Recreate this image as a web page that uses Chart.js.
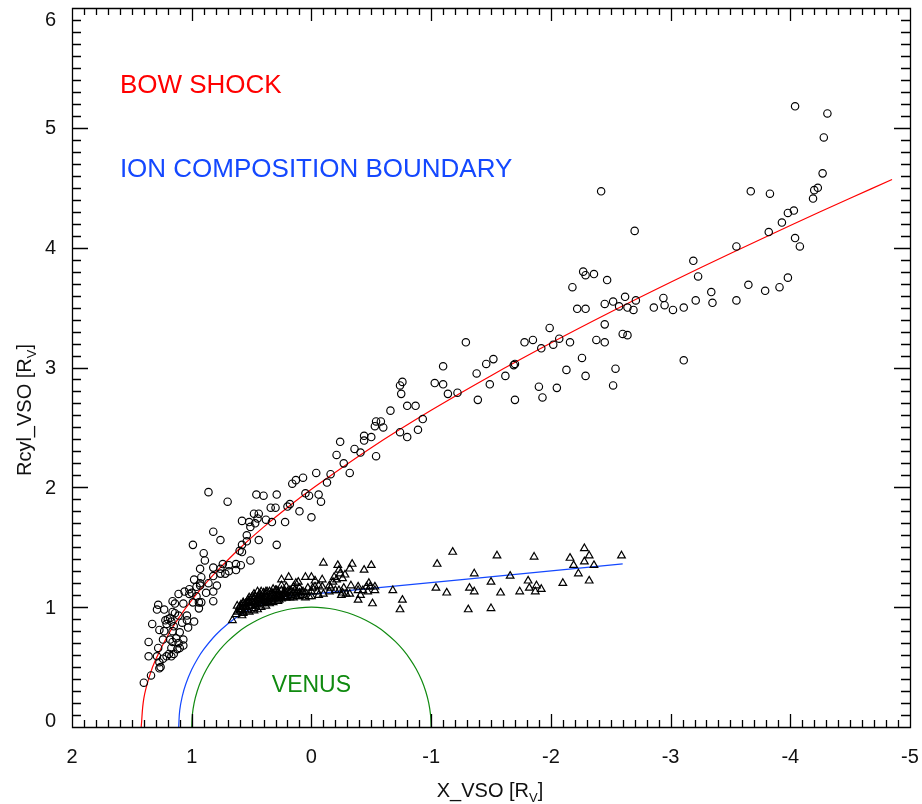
<!DOCTYPE html>
<html>
<head>
<meta charset="utf-8">
<script src="https://cdn.jsdelivr.net/npm/chart.js@4"></script>
<style>
  html, body { margin: 0; padding: 0; background: #fff; }
  canvas { display: block; }
</style>
</head>
<body>
<canvas id="grafico" width="922" height="804" style="width:922px;height:804px"></canvas>
<script>
// Eixos
const xTicks = [2, 1, 0, -1, -2, -3, -4, -5];
const yTicks = [0, 1, 2, 3, 4, 5, 6];
// marcas menores a cada 0.1
const xMarcas = [-5.0, -4.9, -4.8, -4.7, -4.6, -4.5, -4.4, -4.3, -4.2, -4.1, -4.0, -3.9, -3.8, -3.7, -3.6, -3.5, -3.4, -3.3, -3.2, -3.1,
  -3.0, -2.9, -2.8, -2.7, -2.6, -2.5, -2.4, -2.3, -2.2, -2.1, -2.0, -1.9, -1.8, -1.7, -1.6, -1.5, -1.4, -1.3, -1.2, -1.1,
  -1.0, -0.9, -0.8, -0.7, -0.6, -0.5, -0.4, -0.3, -0.2, -0.1, 0.0, 0.1, 0.2, 0.3, 0.4, 0.5, 0.6, 0.7, 0.8, 0.9,
  1.0, 1.1, 1.2, 1.3, 1.4, 1.5, 1.6, 1.7, 1.8, 1.9, 2.0];
const yMarcas = [0.0, 0.1, 0.2, 0.3, 0.4, 0.5, 0.6, 0.7, 0.8, 0.9, 1.0, 1.1, 1.2, 1.3, 1.4, 1.5, 1.6, 1.7, 1.8, 1.9,
  2.0, 2.1, 2.2, 2.3, 2.4, 2.5, 2.6, 2.7, 2.8, 2.9, 3.0, 3.1, 3.2, 3.3, 3.4, 3.5, 3.6, 3.7, 3.8, 3.9,
  4.0, 4.1, 4.2, 4.3, 4.4, 4.5, 4.6, 4.7, 4.8, 4.9, 5.0, 5.1, 5.2, 5.3, 5.4, 5.5, 5.6, 5.7, 5.8, 5.9, 6.0];

// Cruzamentos do bow shock (círculos)
const bowShockX = [
  -4.04, -4.31, -4.28, -4.27, -4.23, -4.20, -4.19, -3.67, -3.83, -2.42, -2.70, -4.03, -3.98, -3.93, -3.82, -4.04, -4.08, -3.55,
  -3.19, -3.23, -2.27, -2.29, -2.36, -2.47, -2.18, -3.34, -3.35, -3.65, -3.79, -3.91, -3.98, -3.55, -2.94, -2.95, -3.02, -3.11,
  -3.21, -2.86, -2.62, -2.71, -2.64, -2.69, -2.57, -2.52, -2.45, -2.22, -2.29, -2.45, -2.60, -2.64, -2.38, -2.45, -3.11, -1.99,
  -2.07, -2.02, -1.92, -2.16, -1.85, -1.78, -2.26, -2.29, -2.13, -2.54, -2.52, -2.05, -1.90, -1.93, -1.70, -1.69, -1.70, -1.62,
  -1.49, -1.52, -1.46, -1.29, -1.38, -1.39, -1.10, -1.03, -1.10, -1.14, -1.22, -0.76, -0.74, -0.75, -0.80, -0.87, -0.93, -0.89,
  -0.80, -0.74, -0.66, -0.54, -0.58, -0.53, -0.60, -0.50, -0.44, -0.44, -0.41, -0.54, -0.36, -0.24, -0.21, -0.27, -0.32, -0.16,
  -0.13, -0.04, -0.06, -0.08, 0.00, 0.07, 0.13, 0.16, 0.05, 0.02, 0.10, 0.18, 0.20, 0.22, 0.29, 0.40, 0.46, 0.30,
  0.34, 0.33, 0.38, 0.44, 0.48, 0.45, 0.47, 0.52, 0.51, 0.58, 0.54, 0.44, 0.70, 0.86, 0.82, 0.76, 0.29, 0.99,
  0.90, 0.89, 0.93, 0.82, 0.74, 0.76, 0.69, 0.63, 0.63, 0.59, 0.51, 0.60, 0.58, 0.58, 0.54, 0.98, 0.92, 0.82,
  0.69, 0.76, 0.72, 0.93, 0.96, 0.93, 0.86, 0.79, 0.82, 0.88, 0.82, 1.02, 1.00, 1.02, 1.06, 1.11, 0.96, 0.94,
  0.92, 0.99, 1.07, 1.14, 1.16, 0.94, 1.28, 1.29, 1.23, 1.16, 1.14, 1.11, 1.04, 1.04, 0.98, 1.08, 1.03, 1.33,
  1.27, 1.23, 1.22, 1.20, 1.18, 1.17, 1.21, 1.16, 1.10, 1.15, 1.24, 1.18, 1.16, 1.13, 1.07, 1.11, 1.36, 1.28,
  1.17, 1.12, 1.10, 1.07, 1.19, 1.21, 1.17, 1.15, 1.24, 1.27, 1.26, 1.27, 1.29, 1.36, 1.34, 1.40
];
const bowShockY = [
  5.18, 5.12, 4.92, 4.62, 4.50, 4.48, 4.41, 4.47, 4.45, 4.47, 4.14, 4.31, 4.29, 4.21, 4.13, 4.08, 4.01, 4.01,
  3.89, 3.76, 3.80, 3.77, 3.78, 3.73, 3.67, 3.63, 3.54, 3.69, 3.64, 3.67, 3.75, 3.56, 3.58, 3.52, 3.48, 3.50,
  3.56, 3.50, 3.59, 3.56, 3.50, 3.48, 3.51, 3.55, 3.53, 3.49, 3.49, 3.36, 3.28, 3.27, 3.23, 3.21, 3.06, 3.33,
  3.24, 3.19, 3.16, 3.21, 3.23, 3.21, 3.08, 2.93, 2.98, 2.99, 2.85, 2.83, 2.84, 2.75, 2.73, 3.02, 3.03, 2.93,
  2.86, 3.07, 3.03, 3.21, 2.95, 2.73, 3.01, 2.87, 2.86, 2.78, 2.79, 2.88, 2.85, 2.78, 2.68, 2.68, 2.57, 2.48,
  2.42, 2.46, 2.64, 2.55, 2.55, 2.51, 2.50, 2.42, 2.43, 2.39, 2.29, 2.26, 2.32, 2.38, 2.27, 2.20, 2.12, 2.11,
  2.04, 2.12, 1.94, 1.88, 1.75, 2.08, 2.06, 2.03, 1.95, 1.93, 1.80, 1.86, 1.84, 1.71, 1.94, 1.93, 1.94, 1.83,
  1.83, 1.71, 1.73, 1.78, 1.78, 1.74, 1.70, 1.71, 1.67, 1.72, 1.60, 1.56, 1.88, 1.96, 1.63, 1.56, 1.52, 1.52,
  1.45, 1.39, 1.32, 1.33, 1.36, 1.32, 1.30, 1.31, 1.36, 1.35, 1.39, 1.47, 1.46, 1.52, 1.55, 1.23, 1.25, 1.26,
  1.35, 1.28, 1.28, 1.20, 1.17, 1.18, 1.20, 1.18, 1.13, 1.12, 1.05, 1.15, 1.12, 1.11, 1.13, 1.11, 1.09, 1.04,
  1.04, 1.04, 1.03, 1.03, 1.05, 0.99, 1.02, 0.98, 0.98, 0.96, 0.95, 0.93, 0.93, 0.89, 0.88, 0.87, 0.83, 0.86,
  0.81, 0.80, 0.89, 0.90, 0.91, 0.88, 0.86, 0.80, 0.79, 0.84, 0.73, 0.73, 0.71, 0.74, 0.73, 0.70, 0.71, 0.66,
  0.66, 0.65, 0.66, 0.68, 0.61, 0.59, 0.59, 0.61, 0.57, 0.54, 0.50, 0.49, 0.59, 0.59, 0.43, 0.37
];

// Cruzamentos da ICB (triângulos)
const icbX = [
  -1.18, -1.05, -1.55, -1.86, -2.16, -2.28, -2.32, -2.28, -2.36, -2.19, -2.59, -2.23, -2.10, -2.32, -1.36, -1.66, -1.81, -1.50,
  -1.04, -1.13, -1.32, -1.36, -1.58, -1.74, -1.82, -1.88, -1.87, -1.92, -1.31, -1.50, -0.68, -0.76, -0.74, -0.51, -0.39, -0.50,
  -0.44, -0.34, -0.32, -0.22, -0.23, -0.10, 0.00, 0.05, -0.09, -0.19, -0.26, -0.28, -0.18, -0.16, -0.33, -0.48, -0.49, -0.39,
  -0.43, -0.47, -0.53, -0.41, -0.32, -0.25, -0.29, -0.03, -0.06, 0.02, 0.10, -0.23, 0.25, 0.19, 0.11, -0.09, -0.15, -0.39,
  -0.46, -0.53, -0.21, -0.01, 0.03, -0.06, -0.26, -0.24,
  0.66, 0.59, 0.53, 0.48, 0.42, 0.36, 0.38, 0.44, 0.49, 0.57, 0.59, 0.57, 0.40, 0.32, 0.27, 0.21, 0.25, 0.29,
  0.24, 0.21, 0.18, 0.14, 0.10, -0.03, 0.13,
  0.62, 0.62, 0.58, 0.58, 0.55, 0.55, 0.55, 0.52, 0.52, 0.52, 0.52, 0.48, 0.48, 0.48, 0.48, 0.45, 0.45, 0.45,
  0.45, 0.45, 0.42, 0.42, 0.42, 0.42, 0.38, 0.38, 0.38, 0.38, 0.35, 0.35, 0.35, 0.35, 0.32, 0.32, 0.32, 0.32,
  0.28, 0.28, 0.28, 0.28, 0.25, 0.25, 0.25, 0.22, 0.22, 0.22, 0.18, 0.18, 0.15, 0.15, 0.15, 0.12, 0.12, 0.08,
  0.08, 0.05, 0.05, 0.00, 0.00, -0.05, -0.10, -0.15, -0.20, -0.27,
  0.63, 0.60, 0.60, 0.57, 0.57, 0.57, 0.53, 0.53, 0.53, 0.50, 0.50, 0.50, 0.47, 0.47, 0.47, 0.43, 0.43, 0.43,
  0.40, 0.40, 0.40, 0.37, 0.37, 0.37, 0.33, 0.33, 0.33, 0.30, 0.30, 0.30, 0.27, 0.27, 0.23, 0.23, 0.20, 0.20,
  0.17, 0.17, 0.13, 0.10, 0.07
];
const icbY = [
  1.46, 1.36, 1.43, 1.42, 1.41, 1.49, 1.43, 1.38, 1.35, 1.35, 1.43, 1.28, 1.20, 1.22, 1.28, 1.26, 1.22, 1.21,
  1.16, 1.12, 1.16, 1.13, 1.12, 1.13, 1.16, 1.18, 1.13, 1.15, 0.98, 0.99, 1.14, 1.06, 0.98, 1.03, 1.06, 1.35,
  1.31, 1.36, 1.32, 1.35, 1.31, 1.37, 1.25, 1.25, 1.23, 1.25, 1.24, 1.27, 1.21, 1.16, 1.18, 1.20, 1.17, 1.14,
  1.14, 1.13, 1.14, 1.10, 1.11, 1.10, 1.11, 1.17, 1.10, 1.09, 1.09, 1.14, 1.23, 1.25, 1.21, 1.17, 1.18, 1.17,
  1.17, 1.17, 1.23, 1.16, 1.16, 1.18, 1.12, 1.28,
  0.89, 1.02, 1.04, 1.07, 1.06, 1.04, 1.13, 1.10, 1.09, 1.04, 0.98, 0.95, 1.06, 1.07, 1.06, 1.08, 1.18, 1.14,
  1.11, 1.17, 1.14, 1.14, 1.16, 1.22, 1.20,
  0.96, 1.01, 0.93, 0.98, 1.03, 0.97, 1.00, 1.05, 1.01, 0.96, 1.08, 1.03, 0.99, 1.11, 0.97, 1.06, 1.02, 1.08,
  0.98, 1.13, 1.09, 1.03, 1.00, 1.13, 1.08, 1.04, 1.01, 1.11, 1.09, 1.06, 1.03, 1.13, 1.11, 1.07, 1.04, 1.15,
  1.10, 1.08, 1.05, 1.13, 1.09, 1.07, 1.14, 1.11, 1.08, 1.13, 1.12, 1.08, 1.12, 1.08, 1.17, 1.13, 1.09, 1.13,
  1.10, 1.12, 1.08, 1.13, 1.09, 1.13, 1.11, 1.13, 1.14, 1.16,
  0.94, 0.97, 1.00, 0.96, 1.01, 1.03, 0.98, 1.03, 1.06, 1.01, 1.05, 1.08, 1.01, 1.04, 1.09, 1.03, 1.07, 1.11,
  1.03, 1.08, 1.12, 1.05, 1.08, 1.13, 1.05, 1.09, 1.12, 1.07, 1.09, 1.14, 1.08, 1.11, 1.09, 1.12, 1.09, 1.13,
  1.10, 1.14, 1.11, 1.12, 1.13
];

// Curvas ajustadas
const bsCurvaX = [1.422, 1.40, 1.35, 1.30, 1.20, 1.10, 1.00, 0.90, 0.80, 0.60, 0.40, 0.20, 0.00, -0.50, -1.00, -1.50, -2.00, -2.50, -3.00, -3.50, -4.00, -4.50, -4.85];
const bsCurvaY = [0.00, 0.239, 0.433, 0.565, 0.764, 0.922, 1.058, 1.179, 1.290, 1.490, 1.668, 1.832, 1.984, 2.331, 2.643, 2.932, 3.204, 3.463, 3.711, 3.951, 4.185, 4.412, 4.569];

const icbCurvaX = [1.109, 1.10, 1.08, 1.05, 1.00, 0.95, 0.90, 0.80, 0.70, 0.60, 0.50, 0.40, 0.30, 0.20, 0.10, 0.00, -2.60];
const icbCurvaY = [0.00, 0.141, 0.252, 0.357, 0.479, 0.572, 0.648, 0.768, 0.860, 0.933, 0.990, 1.034, 1.068, 1.091, 1.105, 1.109, 1.361];

const venusX = [1.00, 0.995, 0.98, 0.955, 0.92, 0.875, 0.825, 0.766, 0.70, 0.62, 0.54, 0.45, 0.35, 0.25, 0.15, 0.05,
  -0.05, -0.15, -0.25, -0.35, -0.45, -0.54, -0.62, -0.70, -0.766, -0.825, -0.875, -0.92, -0.955, -0.98, -0.995, -1.00];
const venusY = [0.00, 0.10, 0.199, 0.296, 0.392, 0.484, 0.565, 0.643, 0.714, 0.785, 0.842, 0.893, 0.937, 0.968, 0.989, 0.999,
  0.999, 0.989, 0.968, 0.937, 0.893, 0.842, 0.785, 0.714, 0.643, 0.565, 0.484, 0.392, 0.296, 0.199, 0.10, 0.00];

const FONTE = "'Liberation Sans', Arial, Helvetica, sans-serif";
const VERMELHO = '#ff0000';
const AZUL = '#1448ff';
const VERDE = '#108a10';

function pares(xs, ys) {
    return xs.map((x, i) => ({ x: x, y: ys[i] }));
}

// Texto com subscrito (R_V)
function textoComSub(ctx, antes, sub, depois, x, y, tam) {
    const fPrinc = tam + 'px ' + FONTE;
    const fSub = Math.round(tam * 0.65) + 'px ' + FONTE;
    ctx.font = fPrinc;
    const w1 = ctx.measureText(antes).width;
    const w3 = ctx.measureText(depois).width;
    ctx.font = fSub;
    const w2 = ctx.measureText(sub).width;
    let inicio = x - (w1 + w2 + w3) / 2;
    ctx.textAlign = 'left';
    ctx.textBaseline = 'alphabetic';
    ctx.font = fPrinc;
    ctx.fillText(antes, inicio, y);
    ctx.font = fSub;
    ctx.fillText(sub, inicio + w1, y + tam * 0.25);
    ctx.font = fPrinc;
    ctx.fillText(depois, inicio + w1 + w2, y);
}

// Moldura com marcas para dentro nos quatro lados, rótulos e títulos
const molduraPlugin = {
    id: 'moldura',
    afterDraw(chart) {
        const c = chart.ctx;
        const area = chart.chartArea;
        const sx = chart.scales.x;
        const sy = chart.scales.y;
        const esq = Math.round(area.left);
        const dir = Math.round(area.right);
        const topo = Math.round(area.top);
        const base = Math.round(area.bottom);
        c.save();
        c.globalAlpha = 1;
        c.globalCompositeOperation = 'source-over';
        c.setLineDash([]);
        c.strokeStyle = '#000';
        c.lineWidth = 1.3;
        c.beginPath();
        c.rect(esq + 0.5, topo + 0.5, dir - esq, base - topo);
        // marcas do eixo x (embaixo e em cima)
        xMarcas.forEach((v) => {
            const px = Math.round(sx.getPixelForValue(v)) + 0.5;
            const len = Number.isInteger(v) ? 13 : 7;
            c.moveTo(px, base);
            c.lineTo(px, base - len);
            c.moveTo(px, topo);
            c.lineTo(px, topo + len);
        });
        // marcas do eixo y (esquerda e direita)
        yMarcas.forEach((v) => {
            const py = Math.round(sy.getPixelForValue(v)) + 0.5;
            const len = Number.isInteger(v) ? 16 : 9;
            c.moveTo(esq, py);
            c.lineTo(esq + len, py);
            c.moveTo(dir, py);
            c.lineTo(dir - len, py);
        });
        c.stroke();

        // Rótulos do eixo y (os extremos ficam dentro da moldura, como no IDL)
        c.fillStyle = '#111';
        c.font = '20px ' + FONTE;
        c.textAlign = 'right';
        c.textBaseline = 'middle';
        yTicks.forEach((v) => {
            let py = sy.getPixelForValue(v);
            py = Math.min(Math.max(py, topo + 11), base - 7);
            c.fillText(String(v), esq - 16, py + 1);
        });

        // Rótulos das regiões
        c.textBaseline = 'alphabetic';
        c.textAlign = 'left';
        c.font = '26px ' + FONTE;
        c.fillStyle = VERMELHO;
        c.fillText('BOW SHOCK', sx.getPixelForValue(1.6), sy.getPixelForValue(5.29));
        c.fillStyle = AZUL;
        c.fillText('ION COMPOSITION BOUNDARY', sx.getPixelForValue(1.6), sy.getPixelForValue(4.59));
        c.textAlign = 'center';
        c.font = '23px ' + FONTE;
        c.fillStyle = VERDE;
        c.fillText('VENUS', sx.getPixelForValue(0), sy.getPixelForValue(0.29));

        // Títulos dos eixos
        c.fillStyle = '#111';
        textoComSub(c, 'X_VSO [R', 'V', ']', 490, 797, 20);
        c.translate(31, 410);
        c.rotate(-Math.PI / 2);
        textoComSub(c, 'Rcyl_VSO [R', 'V', ']', 0, 0, 20);
        c.restore();
    }
};

const ctx = document.getElementById('grafico').getContext('2d');

const configuracao = {
    type: 'scatter',
    data: {
        datasets: [
            {
                label: 'Bow shock',
                data: pares(bowShockX, bowShockY),
                pointStyle: 'circle',
                pointRadius: 3.7,
                pointBorderWidth: 1.15,
                pointBorderColor: '#000',
                pointBackgroundColor: 'rgba(0,0,0,0)'
            },
            {
                label: 'ICB',
                data: pares(icbX, icbY),
                pointStyle: 'triangle',
                pointRadius: 4.4,
                pointBorderWidth: 1.2,
                pointBorderColor: '#000',
                pointBackgroundColor: 'rgba(0,0,0,0)'
            },
            {
                label: 'Ajuste BS',
                data: pares(bsCurvaX, bsCurvaY),
                showLine: true,
                borderColor: VERMELHO,
                borderWidth: 1.2,
                pointRadius: 0,
                tension: 0.4
            },
            {
                label: 'Ajuste ICB',
                data: pares(icbCurvaX, icbCurvaY),
                showLine: true,
                borderColor: AZUL,
                borderWidth: 1.2,
                pointRadius: 0,
                tension: 0.4
            },
            {
                label: 'Vênus',
                data: pares(venusX, venusY),
                showLine: true,
                borderColor: VERDE,
                borderWidth: 1.2,
                pointRadius: 0,
                tension: 0.4
            }
        ]
    },
    options: {
        responsive: false,
        animation: false,
        events: [],
        layout: { padding: { top: 8, right: 12, left: 0, bottom: 0 } },
        plugins: {
            legend: { display: false },
            tooltip: { enabled: false }
        },
        scales: {
            x: {
                type: 'linear',
                reverse: true,
                min: -5,
                max: 2,
                afterBuildTicks: (s) => { s.ticks = xTicks.map(v => ({ value: v })); },
                afterFit: (s) => { s.height = 77; s.paddingLeft = 0; s.paddingRight = 0; },
                ticks: {
                    font: { family: FONTE, size: 20 },
                    color: '#111',
                    padding: 18,
                    maxRotation: 0,
                    autoSkip: false
                },
                grid: { display: false, drawTicks: false },
                border: { display: false }
            },
            y: {
                type: 'linear',
                min: 0,
                max: 6,
                afterBuildTicks: (s) => { s.ticks = yTicks.map(v => ({ value: v })); },
                afterFit: (s) => { s.width = 72; s.paddingTop = 0; s.paddingBottom = 0; },
                ticks: { display: false },
                grid: { display: false, drawTicks: false },
                border: { display: false }
            }
        }
    },
    plugins: [molduraPlugin]
};

const grafico = new Chart(ctx, configuracao);
</script>
</body>
</html>
